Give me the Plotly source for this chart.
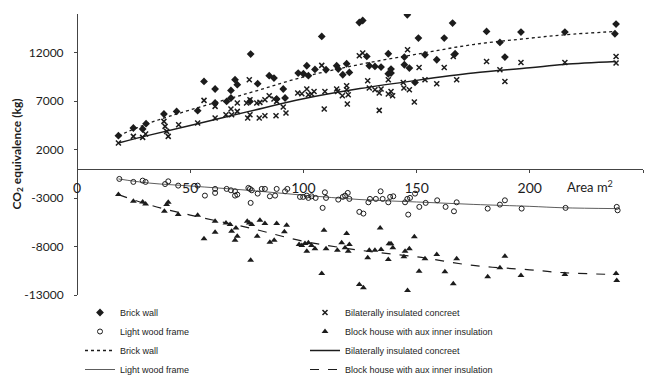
import plotly.graph_objects as go

# ---------------- data ----------------
brick_x = [18.3, 24.9, 29.0, 30.5, 38.4, 44.0, 53.3, 56.1, 61.0, 61.0, 66.1, 68.0, 68.0, 69.8, 70.8,
           76.4, 76.7, 79.8, 84.9, 87.0, 88.2, 91.1, 91.9, 97.7, 100.0, 101.5, 102.2, 105.1, 108.1,
           110.0, 114.7, 115.4, 117.4, 119.1, 120.3, 124.7, 126.2, 128.0, 129.1, 131.6, 134.3, 137.5,
           137.5, 138.7, 138.7, 144.6, 144.6, 145.9, 146.8, 149.3, 150.8, 153.7, 158.9, 162.2, 165.9,
           167.0, 180.9, 186.8, 189.0, 196.1, 215.5, 237.6, 238.1]
brick_y = [3444, 4237, 4134, 4681, 5681, 5949, 6021, 9042, 8258, 6815, 6980, 8114, 7330, 9217, 8701,
           6980, 11867, 8805, 9630, 9392, 7227, 8258, 7330, 9908, 9836, 10660, 9630, 10280, 13681,
           10248, 10660, 10320, 9733, 10867, 9970, 15125, 15331, 11620, 10660, 10588, 10526, 11898,
           9836, 9908, 10320, 11557, 10763, 15920, 10423, 8939, 13516, 11795, 11279, 13516, 15063,
           11898, 14197, 13063, 11557, 14135, 14135, 13960, 14960]

bil_x = [18.3, 24.9, 29.0, 30.3, 38.4, 38.9, 39.6, 40.3, 44.9, 53.3, 56.1, 61.0, 61.0, 65.8, 68.0,
         68.3, 70.8, 70.8, 74.9, 76.4, 76.1, 75.4, 76.4, 80.5, 83.0, 79.4, 80.8, 83.0, 84.9, 87.0,
         88.2, 87.9, 92.3, 91.1, 97.5, 99.3, 101.5, 102.2, 103.6, 104.7, 109.2, 109.5, 108.1, 114.7,
         115.1, 117.2, 119.1, 119.8, 119.1, 119.4, 124.7, 126.2, 128.4, 129.1, 131.6, 134.3, 133.5,
         137.5, 138.7, 139.4, 133.5, 137.5, 146.0, 144.1, 144.4, 146.8, 149.0, 151.1, 153.7, 158.9,
         162.2, 166.2, 167.7, 180.9, 186.8, 189.0, 196.1, 215.5, 238.1, 238.1]
bil_y = [2690, 3371, 3268, 3619, 4918, 4402, 3887, 3371, 4578, 4753, 7083, 6464, 5268, 5608, 6196,
         5608, 6815, 5949, 6815, 7155, 9217, 5268, 5608, 5268, 5505, 6815, 6877, 7155, 7567, 7227,
         6980, 5505, 5784, 6402, 7846, 7774, 8258, 7670, 7743, 8011, 6196, 8011, 10700, 8258,
         8011, 7567, 8186, 7670, 8598, 6712, 11692, 11970, 9114, 8361, 8186, 8258, 7846,
         7743, 8011, 7567, 6052, 9217, 12310, 8939, 8361, 8186, 6918, 10485, 9217, 8805,
         10485, 11620, 9217, 11104, 10248, 9042, 11001, 11001, 11620, 10939]

wood_x = [18.7, 24.9, 29.0, 30.3, 38.9, 40.3, 44.7, 53.3, 56.5, 61.0, 61.0, 66.1, 68.0, 69.8, 70.8,
          69.8, 75.7, 76.4, 77.2, 76.7, 79.8, 81.6, 83.0, 85.2, 87.5, 88.2, 91.9, 92.9, 98.5, 99.9,
          101.5, 102.2, 103.6, 105.4, 108.5, 109.5, 110.0, 115.4, 117.4, 118.4, 119.6, 120.3, 124.7,
          126.5, 128.7, 129.4, 132.0, 134.1, 135.0, 137.5, 138.3, 139.7, 144.9, 145.9, 147.1, 149.3,
          146.3, 151.2, 154.0, 159.1, 162.8, 166.5, 167.7, 181.4, 186.8, 189.0, 196.4, 215.8, 238.4,
          238.8]
wood_y = [-1021, -1330, -1196, -1330, -1550, -1268, -1711, -1711, -2742, -2052, -2464, -2052, -2196,
          -2299, -2639, -2742, -1949, -2052, -2196, -3495, -2536, -2052, -2052, -2815, -2742, -2052,
          -2299, -2052, -2876, -2876, -2742, -2980, -2815, -2980, -4011, -2402, -2980, -3155, -2876,
          -2742, -2464, -3083, -4423, -4598, -3433, -3083, -3083, -2299, -3083, -3433, -2876, -2815,
          -3433, -3083, -2980, -2536, -4701, -3907, -3495, -3227, -3907, -4361, -3433, -4083, -3670,
          -3227, -4083, -4011, -3907, -4258]

block_x = [18.3, 24.9, 29.0, 30.3, 38.6, 39.6, 40.3, 44.7, 53.3, 56.1, 61.0, 61.0, 65.8, 67.6, 68.3,
           70.2, 70.8, 69.8, 75.2, 76.1, 77.2, 76.7, 79.6, 80.8, 83.0, 85.2, 87.1, 88.2, 91.6, 92.6,
           98.1, 99.3, 100.7, 101.5, 102.2, 103.6, 105.1, 108.1, 109.1, 110.0, 115.0, 116.9, 118.4,
           119.1, 119.8, 120.3, 124.7, 126.5, 128.4, 129.1, 131.6, 134.3, 133.9, 137.5, 137.8, 138.7,
           139.5, 144.4, 144.9, 146.8, 146.0, 149.0, 151.1, 153.7, 158.9, 162.5, 167.7, 166.2, 181.4,
           186.8, 189.0, 196.1, 215.5, 238.1, 238.4]
block_y = [-2639, -3330, -3392, -3598, -4361, -3670, -3433, -4701, -4773, -7207, -5392, -6526, -5557,
           -5732, -6423, -6073, -6938, -7351, -5392, -5557, -5732, -9413, -6938, -5288, -5629, -7557,
           -7351, -5629, -6485, -5804, -7794, -7897, -7691, -8485, -7619, -7897, -8238, -10784, -6320,
           -8238, -8382, -7619, -8134, -6660, -8485, -7794, -11918, -12259, -9165, -8382, -8382, -8310,
           -6073, -9341, -7722, -7722, -8134, -9063, -8485, -8238, -12537, -7000, -10547, -9269, -8825,
           -10609, -9269, -11846, -11124, -10196, -9000, -10990, -10887, -10784, -11506]

# trend lines
trend_x = [18.3, 32, 50, 76, 100, 125, 150, 175, 200, 215, 238]
brick_trend = [3444, 4750, 6100, 7850, 9500, 10800, 11850, 12850, 13500, 13850, 14200]
bil_trend = [2690, 3500, 4500, 5950, 7250, 8300, 9150, 9900, 10450, 10800, 11100]
wood_trend = [-1021, -1450, -1750, -2200, -2700, -3150, -3400, -3650, -3850, -4000, -4083]
block_trend = [-2639, -3700, -4750, -6073, -7454, -8382, -9063, -9950, -10400, -10700, -10887]

x_ticks = [0, 50, 100, 150, 200, 250]
y_ticks = [-13000, -8000, -3000, 2000, 7000, 12000]
y_range = [-13000, 16000]

INK = "#1c1c1c"
FONT = "Lato, 'Liberation Sans', sans-serif"
LEGFONT = "'Liberation Sans Narrow', 'Liberation Sans', sans-serif"

fig = go.Figure()

fig.add_trace(go.Scatter(x=brick_x, y=brick_y, mode="markers", name="Brick wall", legend="legend",
                         marker=dict(symbol="diamond", size=6, color=INK)))
fig.add_trace(go.Scatter(x=wood_x, y=wood_y, mode="markers", name="Light wood frame", legend="legend",
                         marker=dict(symbol="circle-open", size=5, color=INK, line=dict(width=1, color=INK))))
fig.add_trace(go.Scatter(x=trend_x, y=brick_trend, mode="lines", name="Brick wall", legend="legend",
                         line=dict(color=INK, width=1.3, dash="dot", shape="spline")))
fig.add_trace(go.Scatter(x=trend_x, y=wood_trend, mode="lines", name="Light wood frame", legend="legend",
                         line=dict(color="#333", width=0.8, shape="spline")))

fig.add_trace(go.Scatter(x=bil_x, y=bil_y, mode="markers", name="Bilaterally insulated concreet", legend="legend2",
                         marker=dict(symbol="x-thin", size=5, color=INK, line=dict(width=1.5, color=INK))))
fig.add_trace(go.Scatter(x=block_x, y=block_y, mode="markers", name="Block house with aux inner insulation",
                         legend="legend2", marker=dict(symbol="triangle-up", size=6, color=INK)))
fig.add_trace(go.Scatter(x=trend_x, y=bil_trend, mode="lines", name="Bilaterally insulated concreet", legend="legend2",
                         line=dict(color=INK, width=1.5, shape="spline")))
fig.add_trace(go.Scatter(x=trend_x, y=block_trend, mode="lines", name="Block house with aux inner insulation",
                         legend="legend2", line=dict(color=INK, width=1.2, dash="dash", shape="spline")))

xpos = (0 - y_range[0]) / (y_range[1] - y_range[0])

leg_common = dict(yref="container", y=1 - 298 / 382, xref="container", xanchor="left", yanchor="top",
                  bgcolor="rgba(0,0,0,0)", font=dict(family=LEGFONT, size=9, color=INK), tracegroupgap=0)

fig.update_layout(
    width=654, height=382,
    margin=dict(l=77, r=11, t=14, b=87, autoexpand=False),
    paper_bgcolor="white", plot_bgcolor="white",
    font=dict(family=FONT, color=INK),
    showlegend=True,
    legend=dict(x=80 / 654, **leg_common),
    legend2=dict(x=305 / 654, **leg_common),
    xaxis=dict(range=[0, 250], tickvals=x_ticks, ticktext=[str(v) for v in x_ticks],
               anchor="free", position=xpos, showline=True, linecolor="#444", linewidth=1,
               ticks="outside", ticklen=3, tickcolor="#444", showgrid=False, zeroline=False,
               automargin=False, ticklabelstandoff=3, tickfont=dict(size=14, family=FONT, color=INK)),
    yaxis=dict(range=y_range, tickvals=y_ticks, ticktext=[str(v) for v in y_ticks],
               anchor="free", position=0, automargin=False,
               showline=True, linecolor="#444", linewidth=1, ticks="outside", ticklen=3,
               tickcolor="#444", showgrid=False, zeroline=False, ticklabelstandoff=8,
               tickfont=dict(size=12, family=FONT, color=INK)),
    annotations=[
        dict(text="CO<sub>2</sub> equivalence (kg)", xref="paper", yref="paper",
             x=(17 - 77) / 566, y=0.5, xanchor="center", yanchor="middle", textangle=-90,
             showarrow=False, font=dict(size=12, family=FONT, color=INK, weight="bold")),
        dict(text="Area m<sup>2</sup>", xref="x", yref="y", x=226.6, y=0, yshift=-17,
             xanchor="center", yanchor="middle", showarrow=False,
             font=dict(size=13, family=FONT, color=INK)),
    ],
)

fig.write_html("out.html", config={"displayModeBar": False},
               post_script="document.body.style.margin='0';document.body.style.overflow='hidden';")
